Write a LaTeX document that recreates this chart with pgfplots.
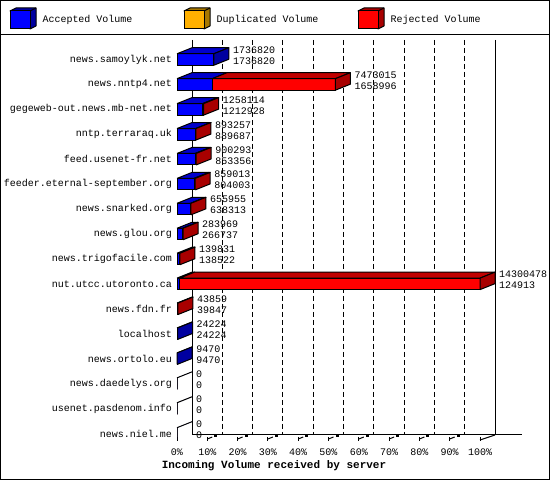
\documentclass[border=0pt]{standalone}
\usepackage{fontspec}
\setmainfont{Liberation Mono}
\usepackage{pgfplots}
\usepackage{pgfplotstable}
\pgfplotsset{compat=1.18}
\definecolor{accF}{HTML}{0000FF}
\definecolor{accT}{HTML}{0000CC}
\definecolor{accS}{HTML}{0000A0}
\definecolor{dupF}{HTML}{FFB000}
\definecolor{dupS}{HTML}{A87800}
\definecolor{rejF}{HTML}{FF0000}
\definecolor{rejT}{HTML}{C00000}
\definecolor{rejS}{HTML}{A80000}

% r = row position (top = 15); total = incoming volume; acc = accepted volume
\pgfplotstableread{
r name total acc
15 news.samoylyk.net 1736820 1736820
14 news.nntp4.net 7473015 1658996
13 gegeweb-out.news.mb-net.net 1258114 1212928
12 nntp.terraraq.uk 893257 889687
11 feed.usenet-fr.net 900293 853356
10 feeder.eternal-september.org 859013 804003
9 news.snarked.org 655955 638313
8 news.glou.org 283969 266737
7 news.trigofacile.com 139831 138522
6 nut.utcc.utoronto.ca 14300478 124913
5 news.fdn.fr 43859 39847
4 localhost 24224 24224
3 news.ortolo.eu 9470 9470
2 news.daedelys.org 0 0
1 usenet.pasdenom.info 0 0
0 news.niel.me 0 0
}\data

\begin{document}
\begin{tikzpicture}[font=\fontsize{10}{12}\selectfont, line width=1pt]
% ---------- background decorations in pixel units ----------
\begin{scope}[x=1pt, y=-1pt, yshift=480pt]
  \useasboundingbox (0,0) rectangle (550,480);
  \draw (0.5,0.5) rectangle (549.5,479.5);
  \draw (0,35) -- (550,35);
  % legend
  \foreach \bx/\cf/\cs/\lab in {10/accF/accS/Accepted Volume, 184/dupF/dupS/Duplicated Volume, 358/rejF/rejS/Rejected Volume}{
    \filldraw[fill=\cs, line join=round] (\bx,11) -- (\bx+6,8) -- (\bx+26,8) -- (\bx+26,26) -- (\bx+20,29) -- (\bx+20,11) -- cycle;
    \filldraw[fill=\cf] (\bx,11) rectangle (\bx+20,29);
    \draw (\bx+20,11) -- (\bx+26,8);
    \node[anchor=west, inner sep=0pt] at (\bx+32,20) {\lab};
  }
  % grid and walls
  \foreach \k in {1,...,9}{
    \draw[dash pattern=on 5pt off 3pt] (192+30.3*\k,40) -- (192+30.3*\k,435);
  }
  \draw (192,40) -- (192,435) -- (522,435);
  \draw (495,40) -- (495,435);
  \draw (480,440) -- (495,435);
  % 3D ticks and labels
  \foreach \k in {0,...,10}{
    \pgfmathsetmacro\xk{177+30.3*\k}
    \draw (\xk,437) -- (\xk,441);
    \node[inner sep=0pt] at (\xk,452) {\pgfmathtruncatemacro\lab{10*\k}\lab\%};
  }
  \foreach \k in {1,...,9}{
    \pgfmathsetmacro\xk{177+30.3*\k}
    \draw (\xk,439) -- (\xk+5,437);
    \fill (\xk+7,434.5) rectangle (\xk+10,437.5);
  }
  \node[inner sep=0pt, font=\fontsize{11}{13}\selectfont\bfseries] at (274,466) {Incoming Volume received by server};
\end{scope}

% ---------- the bars, drawn through the axis ----------
\begin{axis}[
  at={(0pt,0pt)}, anchor=south west,
  hide axis, scale only axis, width=550pt, height=480pt,
  xmin=-5841.6, xmax=12310.2, ymin=-1.8667, ymax=17.3867,
  clip=false,
]
% front faces (x in hundredths of a percent of the largest total)
\addplot[xbar, bar width=11.5pt, bar shift=0pt, fill=rejF, draw=black, line width=1pt, mark=none]
  table[x expr=\thisrow{total}/1430, y=r]{\data};
\addplot[xbar, bar width=11.5pt, bar shift=0pt, fill=accF, draw=black, line width=1pt, mark=none]
  table[x expr=\thisrow{acc}/1430, y=r]{\data};
% top and side faces, labels
\pgfplotsinvokeforeach{0,...,15}{
  \pgfplotstablegetelem{#1}{total}\of\data \edef\vT{\pgfplotsretval}
  \pgfplotstablegetelem{#1}{acc}\of\data \edef\vA{\pgfplotsretval}
  \pgfplotstablegetelem{#1}{r}\of\data \edef\vR{\pgfplotsretval}
  \pgfplotstablegetelem{#1}{name}\of\data \edef\vN{\pgfplotsretval}
  \edef\pT{\the\numexpr\vT/1430\relax}
  \edef\pA{\the\numexpr\vA/1430\relax}
  \edef\pTD{\the\numexpr\pT+495\relax}
  \edef\pAD{\the\numexpr\pA+495\relax}
  \edef\pL{\the\numexpr\pT+627\relax}
  \pgfmathsetmacro\yf{\vR+0.2307}
  \pgfmathsetmacro\yb{\vR+0.4714}
  \pgfmathsetmacro\yfb{\vR-0.2307}
  \pgfmathsetmacro\ybb{\vR+0.0100}
  \pgfmathsetmacro\ylA{\vR+0.381}
  \pgfmathsetmacro\ylB{\vR-0.060}
  \edef\cmd{\noexpand\addplot[fill=accT, draw=black, line width=1pt, line join=round, mark=none]
     coordinates {(0,\yf) (495,\yb) (\pAD,\yb) (\pA,\yf) (0,\yf)};}\cmd
  \ifnum\vT>\vA
    \edef\cmd{\noexpand\addplot[fill=rejT, draw=black, line width=1pt, line join=round, mark=none]
       coordinates {(\pA,\yf) (\pAD,\yb) (\pTD,\yb) (\pT,\yf) (\pA,\yf)};}\cmd
    \edef\cmd{\noexpand\addplot[fill=rejS, draw=black, line width=1pt, line join=round, mark=none]
       coordinates {(\pT,\yfb) (\pT,\yf) (\pTD,\yb) (\pTD,\ybb) (\pT,\yfb)};}\cmd
  \else
    \ifnum\vT>0
      \edef\cmd{\noexpand\addplot[fill=accS, draw=black, line width=1pt, line join=round, mark=none]
         coordinates {(\pT,\yfb) (\pT,\yf) (\pTD,\yb) (\pTD,\ybb) (\pT,\yfb)};}\cmd
    \fi
  \fi
  \edef\cmd{\noexpand\node[anchor=west, inner sep=0pt] at (axis cs:\pL,\ylA) {\vT};
            \noexpand\node[anchor=west, inner sep=0pt] at (axis cs:\pL,\ylB) {\vA};
            \noexpand\node[anchor=east, inner sep=0pt] at (axis cs:-165,\vR) {\vN};}\cmd
}
\end{axis}
\end{tikzpicture}
\end{document}
